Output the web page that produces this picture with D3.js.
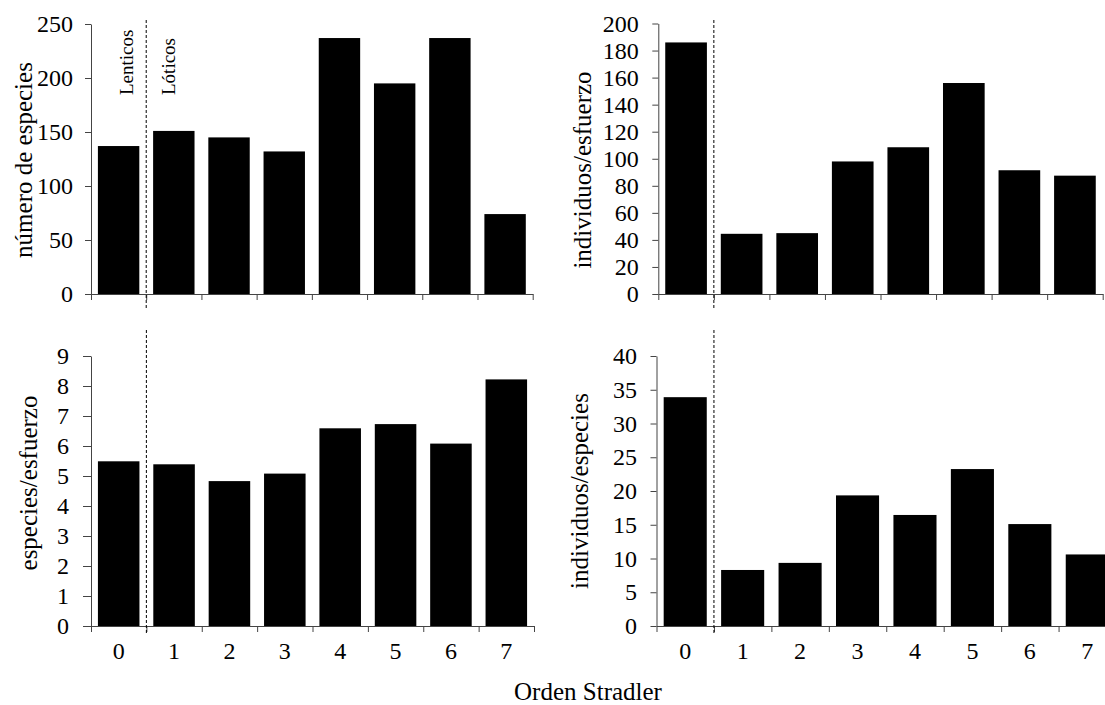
<!DOCTYPE html>
<html>
<head>
<meta charset="utf-8">
<script src="https://cdnjs.cloudflare.com/ajax/libs/d3/7.8.5/d3.min.js"></script>
<style>
  html, body { margin: 0; padding: 0; background: #fff; }
  svg { display: block; }
  text { font-family: "Liberation Serif", "Times New Roman", serif; fill: #000; }
</style>
</head>
<body>
<svg id="chart" width="1105" height="705"></svg>
<script>
// Stream order categories (0 = lentic water bodies, 1-7 = lotic streams)
const categories = ["0", "1", "2", "3", "4", "5", "6", "7"];

// Series values per panel
const numeroEspecies      = [137, 151, 145, 132, 237, 195, 237, 74];
const individuosEsfuerzo  = [186, 44.5, 45, 98, 108.5, 156, 91.5, 87.5];
const especiesEsfuerzo    = [5.49, 5.39, 4.83, 5.08, 6.59, 6.73, 6.08, 8.22];
const individuosEspecies  = [33.9, 8.3, 9.35, 19.35, 16.45, 23.25, 15.1, 10.6];

// Y axis tick labels per panel
const ticksNumeroEspecies     = [0, 50, 100, 150, 200, 250];
const ticksIndividuosEsfuerzo = [0, 20, 40, 60, 80, 100, 120, 140, 160, 180, 200];
const ticksEspeciesEsfuerzo   = [0, 1, 2, 3, 4, 5, 6, 7, 8, 9];
const ticksIndividuosEspecies = [0, 5, 10, 15, 20, 25, 30, 35, 40];

const svg = d3.select("#chart");
const TICK_FONT = "24px";
const TITLE_FONT = "25px";

const panels = [
  { title: "número de especies", values: numeroEspecies, ticks: ticksNumeroEspecies,
    x0: 91, x1: 532.7, yTop: 24, yBot: 294, tickLen: 6, pad: 12,
    titleX: 32, titleY: 160, dashTop: 20, dashBot: 310, xLabels: false, regions: true },
  { title: "individuos/esfuerzo", values: individuosEsfuerzo, ticks: ticksIndividuosEsfuerzo,
    x0: 658.3, x1: 1102.7, yTop: 23.5, yBot: 294, tickLen: 6, pad: 13.5,
    titleX: 590.5, titleY: 170, dashTop: 20, dashBot: 310, xLabels: false, regions: false },
  { title: "especies/esfuerzo", values: especiesEsfuerzo, ticks: ticksEspeciesEsfuerzo,
    x0: 91, x1: 534, yTop: 356, yBot: 626, tickLen: 8, pad: 14,
    titleX: 36.5, titleY: 483, dashTop: 330, dashBot: 634, xLabels: true, regions: false },
  { title: "individuos/especies", values: individuosEspecies, ticks: ticksIndividuosEspecies,
    x0: 656.5, x1: 1116, yTop: 356, yBot: 626, tickLen: 6, pad: 13.5,
    titleX: 588, titleY: 491, dashTop: 330, dashBot: 634, xLabels: true, regions: false }
];

panels.forEach(p => {
  const g = svg.append("g");

  const x = d3.scaleBand()
    .domain(categories)
    .range([p.x0, p.x1])
    .paddingInner(0.25)
    .paddingOuter(0.125);

  // boundaries between categories, used for the x tick marks
  const xb = d3.scaleLinear().domain([0, categories.length]).range([p.x0, p.x1]);

  const y = d3.scaleLinear()
    .domain([p.ticks[0], p.ticks[p.ticks.length - 1]])
    .range([p.yBot, p.yTop]);

  // bars
  g.selectAll("rect.bar")
    .data(p.values)
    .join("rect")
    .attr("class", "bar")
    .attr("x", (d, i) => x(categories[i]))
    .attr("width", x.bandwidth())
    .attr("y", d => y(d))
    .attr("height", d => y(0) - y(d))
    .attr("fill", "#000");

  // y axis
  const ya = g.append("g")
    .attr("transform", `translate(${p.x0},0)`)
    .call(d3.axisLeft(y).tickValues(p.ticks).tickSize(p.tickLen).tickPadding(p.pad).tickSizeOuter(0));
  ya.select(".domain").attr("stroke", "#444");
  ya.selectAll(".tick line").attr("stroke", "#444");
  ya.selectAll(".tick text").style("font-size", TICK_FONT).style("font-family", "'Liberation Serif', serif");

  // x axis: tick marks at category boundaries
  const xa = g.append("g")
    .attr("transform", `translate(0,${p.yBot})`)
    .call(d3.axisBottom(xb).tickValues(d3.range(0, categories.length + 1)).tickSize(6).tickFormat("").tickSizeOuter(0));
  xa.select(".domain").attr("stroke", "#444");
  xa.selectAll(".tick line").attr("stroke", "#444");

  // x axis category labels (bottom row only)
  if (p.xLabels) {
    const xl = g.append("g")
      .attr("transform", `translate(0,${p.yBot})`)
      .call(d3.axisBottom(x).tickSize(0).tickPadding(16));
    xl.select(".domain").remove();
    xl.selectAll(".tick text").style("font-size", TICK_FONT).style("font-family", "'Liberation Serif', serif");
  }

  // dashed separator between lentic (0) and lotic (1-7)
  g.append("line")
    .attr("x1", xb(1)).attr("x2", xb(1))
    .attr("y1", p.dashTop).attr("y2", p.dashBot)
    .attr("stroke", "#000")
    .attr("stroke-width", 1)
    .attr("stroke-dasharray", "3,2");

  // y axis title
  g.append("text")
    .attr("transform", `translate(${p.titleX},${p.titleY}) rotate(-90)`)
    .attr("text-anchor", "middle")
    .style("font-size", TITLE_FONT)
    .text(p.title);

  if (p.regions) {
    g.append("text")
      .attr("transform", `translate(133,95) rotate(-90)`)
      .style("font-size", "19px")
      .text("Lenticos");
    g.append("text")
      .attr("transform", `translate(175,95) rotate(-90)`)
      .style("font-size", "19px")
      .text("Lóticos");
  }
});

// shared x axis title
svg.append("text")
  .attr("x", 588)
  .attr("y", 700)
  .attr("text-anchor", "middle")
  .style("font-size", "25px")
  .text("Orden Stradler");
</script>
</body>
</html>
